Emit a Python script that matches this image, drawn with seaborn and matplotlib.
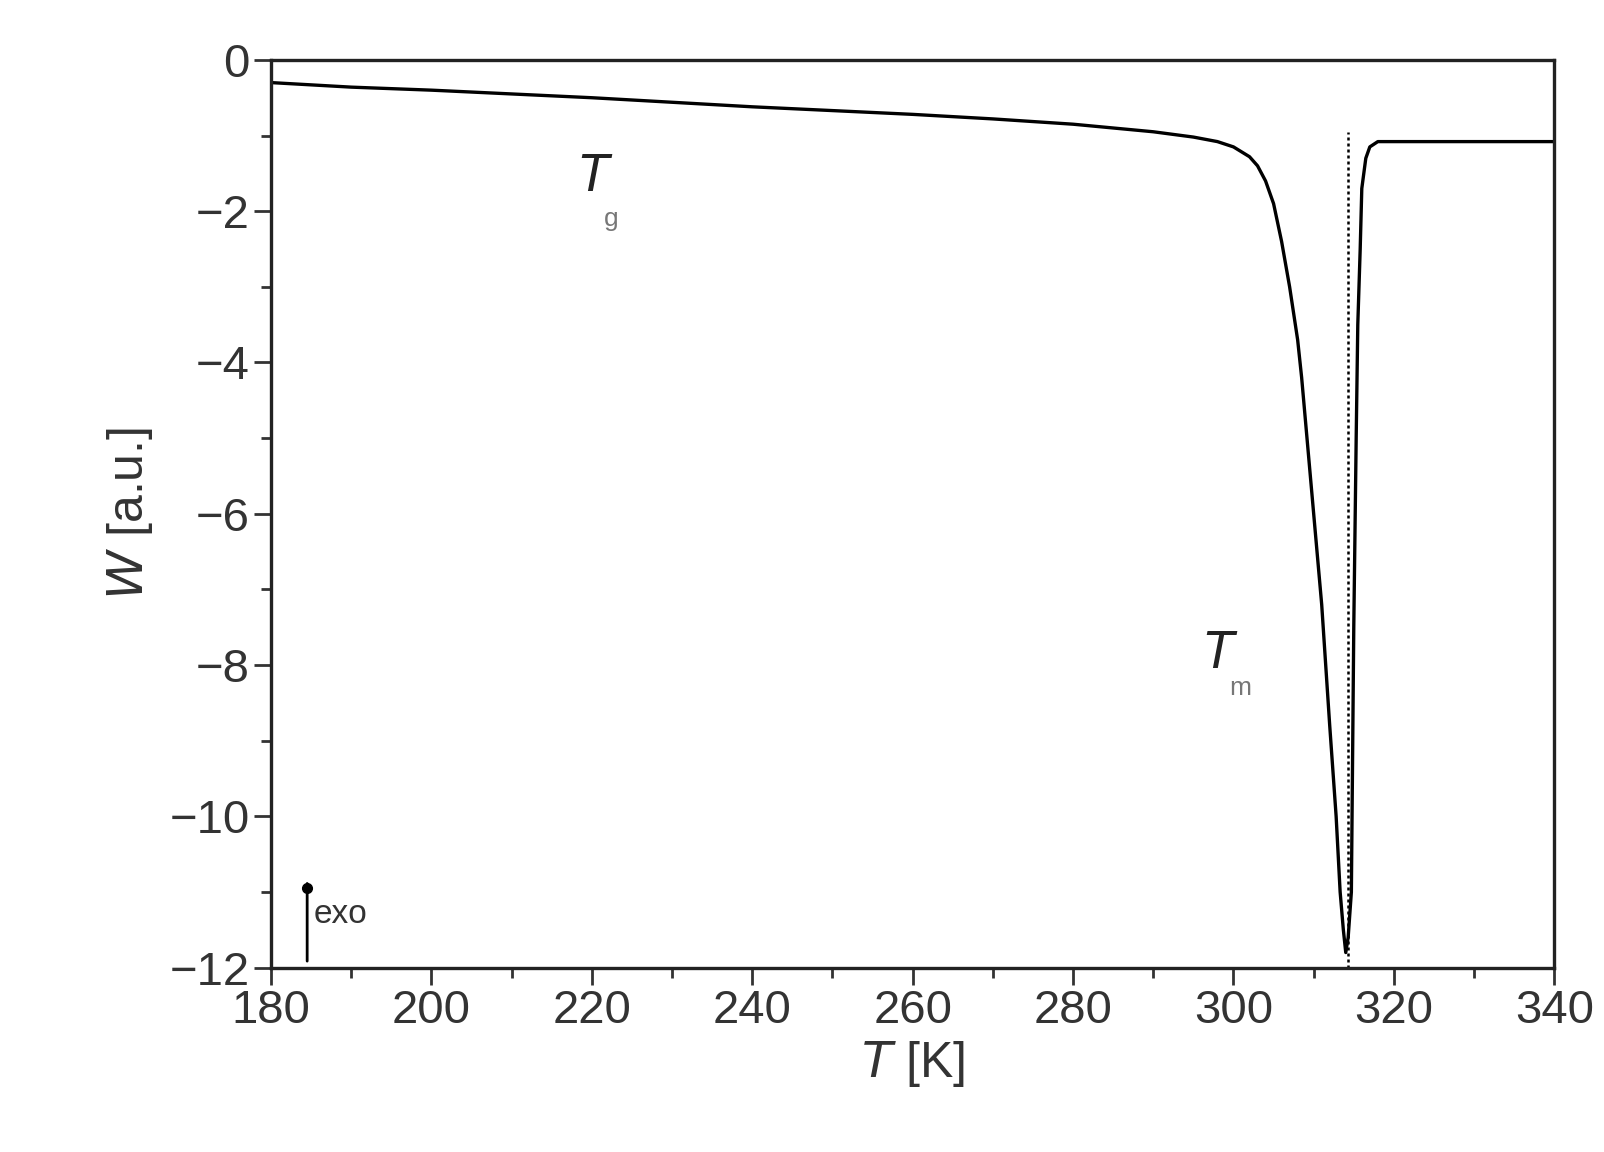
import matplotlib
matplotlib.use("Agg")
import matplotlib.pyplot as plt
import seaborn as sns
import pandas as pd
from matplotlib.ticker import MultipleLocator

T = [180, 190, 200, 210, 220, 230, 240, 250, 260, 270, 280, 290, 295, 298, 300, 302, 303, 304, 305,
     306, 307, 308, 308.5, 309, 310, 311, 311.5, 312, 312.8, 313.3, 313.7, 314.0, 314.3, 314.7, 315.0,
     315.3, 315.5, 315.8, 316.0, 316.5, 317, 318, 320, 330, 340]
W = [-0.3, -0.36, -0.4, -0.45, -0.5, -0.56, -0.62, -0.67, -0.72, -0.78, -0.85, -0.95, -1.02, -1.08, -1.15, -1.28, -1.4, -1.6, -1.9,
     -2.4, -3.0, -3.7, -4.2, -4.8, -6.0, -7.2, -8.0, -8.8, -10.0, -11.0, -11.5, -11.8, -11.6, -11.0, -7.5,
     -5.0, -3.5, -2.5, -1.7, -1.3, -1.15, -1.08, -1.08, -1.08, -1.08]
df = pd.DataFrame({"T": T, "W": W})

sns.set_theme(style="ticks")
plt.rcParams['font.family'] = ['Liberation Sans', 'DejaVu Sans']

fig = plt.figure(figsize=(16.04, 11.52), dpi=100)
ax = fig.add_axes([0.169, 0.16, 0.80, 0.788])
sns.lineplot(data=df, x="T", y="W", ax=ax, color="black", linewidth=2.4)
ax.vlines(314.3, -12, -0.95, colors="black", linestyles=(0, (1.2, 1.2)), linewidth=1.8)

ax.set_xlim(180, 340)
ax.set_ylim(-12, 0)
ax.xaxis.set_major_locator(MultipleLocator(20))
ax.xaxis.set_minor_locator(MultipleLocator(10))
ax.yaxis.set_minor_locator(MultipleLocator(1))
ax.set_yticks([0, -2, -4, -6, -8, -10, -12])
ax.set_yticklabels(["0", "\u22122", "\u22124", "\u22126", "\u22128", "\u221210", "\u221212"])
ax.tick_params(which="major", direction="out", length=12, width=2, labelsize=34, colors="#333333", labelcolor="#333333")
ax.tick_params(which="minor", direction="out", length=7, width=2, colors="#333333")
for s in ax.spines.values():
    s.set_linewidth(2.4)
    s.set_color("#222222")

ax.set_xlabel(r"$\it{T}$ [K]", fontsize=36, color="#333333", labelpad=4)
ax.set_ylabel(r"$\it{W}$ [a.u.]", fontsize=36, color="#333333", labelpad=10)

ax.text(218, -1.55, "T", fontsize=38, style="italic", ha="left", va="center", color="#222222")
ax.text(221.5, -2.1, "g", fontsize=19, color="#777777", ha="left", va="center")
ax.text(296, -7.85, "T", fontsize=38, style="italic", ha="left", va="center", color="#222222")
ax.text(299.5, -8.3, "m", fontsize=19, color="#777777", ha="left", va="center")

ax.annotate("", xy=(184.5, -10.85), xytext=(184.5, -11.95),
            arrowprops=dict(arrowstyle="-", color="black", lw=2))
ax.plot([184.5], [-10.95], "o", color="black", markersize=7)
ax.text(185.3, -11.3, "exo", fontsize=24, color="#333333", ha="left", va="center")

fig.savefig("out.png", dpi=100)
